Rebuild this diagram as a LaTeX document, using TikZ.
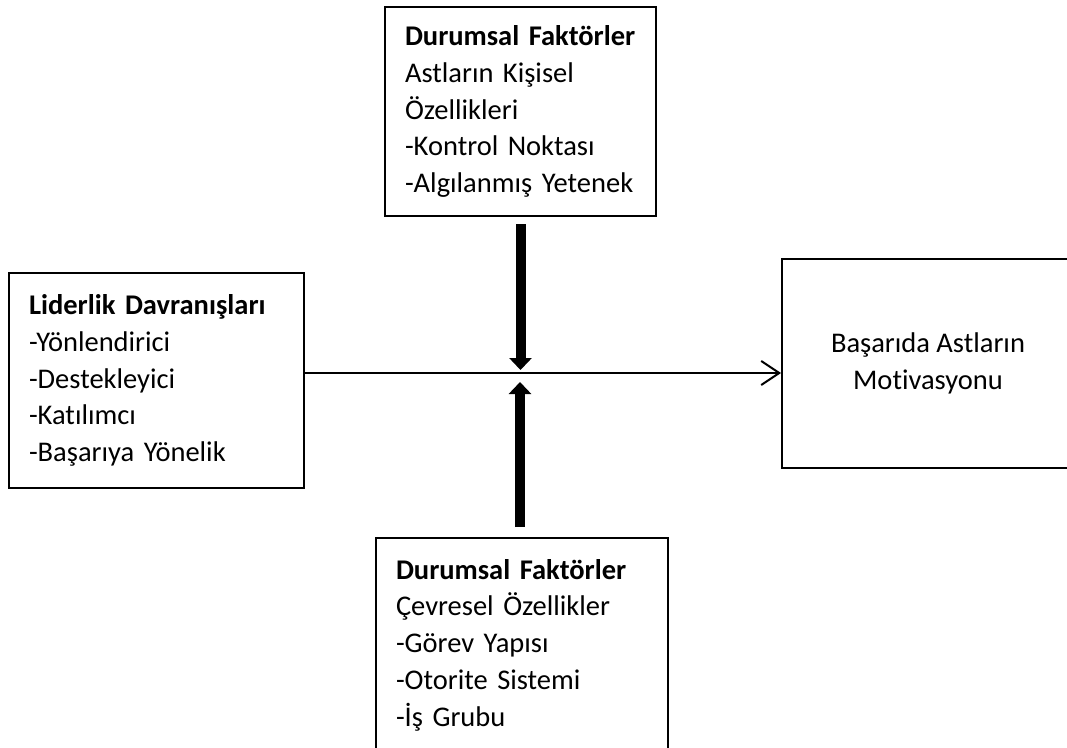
\documentclass[tikz,border=0pt]{standalone}
\usepackage{fontspec}
\setmainfont{Carlito}[Ligatures=NoCommon]
\usetikzlibrary{arrows.meta}

\begin{document}
\begin{tikzpicture}[
  x=1pt, y=-1pt,
  every node/.style={font=\fontsize{28.5}{36.7}\selectfont},
  kutu/.style={draw, line width=2pt, align=left, inner xsep=20pt, inner ysep=0pt},
  ok/.style={-{Straight Barb[length=18pt,width=24pt,line width=2pt]}, line width=2pt},
  kalinok/.style={-{Triangle[length=12pt,width=22pt]}, line width=10pt}
]
\useasboundingbox (0,0) rectangle (1067,747);
\coordinate (kesisim) at (520,373);

\node[kutu, text width=231pt, minimum height=209pt] (ust) at (520.5,111.5) {\textbf{Durumsal Faktörler}\\Astların Kişisel\\Özellikleri\\-Kontrol Noktası\\-Algılanmış Yetenek};
\node[kutu, text width=255pt, minimum height=215pt] (lider) at (156.5,380.5) {\textbf{Liderlik Davranışları}\\-Yönlendirici\\-Destekleyici\\-Katılımcı\\-Başarıya Yönelik};
\node[kutu, align=center, minimum width=292pt, minimum height=209pt] (motiv) at (928,363.5) {Başarıda Astların\\Motivasyonu};
\node[kutu, text width=252pt, minimum height=214pt] (alt) at (522,645) {\textbf{Durumsal Faktörler}\\Çevresel Özellikler\\-Görev Yapısı\\-Otorite Sistemi\\-İş Grubu};

\draw[ok] (lider.east |- kesisim) -- (motiv.west |- kesisim);
\draw[kalinok, shorten <=7pt, shorten >=3pt] (ust.south) -- (ust.south |- kesisim);
\draw[kalinok, shorten <=10pt, shorten >=9pt] (kesisim |- alt.north) -- (kesisim);
\end{tikzpicture}
\end{document}
